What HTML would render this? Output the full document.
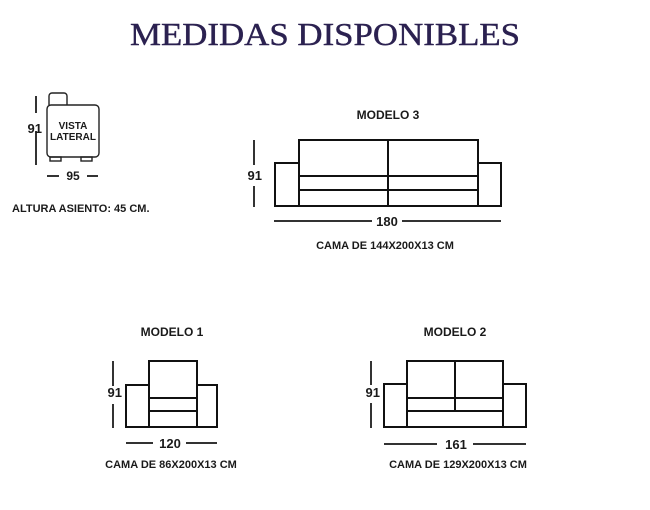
<!DOCTYPE html>
<html><head><meta charset="utf-8"><style>
html,body{margin:0;padding:0;background:#fff;}
svg{display:block;}
text{font-family:"Liberation Sans",sans-serif;font-weight:bold;fill:#1a1a1a;}
.t{font-family:"Liberation Serif",serif;font-weight:normal;fill:#2b2150;stroke:#2b2150;stroke-width:0.4;}
</style></head><body>
<svg width="650" height="510" viewBox="0 0 650 510" xmlns="http://www.w3.org/2000/svg">
<text class="t" x="130" y="45" font-size="32" textLength="390" lengthAdjust="spacingAndGlyphs">MEDIDAS DISPONIBLES</text>

<!-- side view -->
<g stroke="#222" stroke-width="1.4" fill="none">
<path d="M49,105 V96 a3,3 0 0 1 3,-3 H64 a3,3 0 0 1 3,3 V105"/>
<rect x="47" y="105" width="52" height="52" rx="4"/>
<rect x="50" y="157" width="11" height="4"/>
<rect x="81" y="157" width="11" height="4"/>
</g>
<g stroke="#333" stroke-width="2">
<line x1="36" y1="96" x2="36" y2="113"/><line x1="36" y1="131" x2="36" y2="165"/>
<line x1="47" y1="176" x2="59" y2="176"/><line x1="87" y1="176" x2="98" y2="176"/>
</g>
<text x="42" y="133" font-size="13" text-anchor="end">91</text>
<text x="73" y="129" font-size="10" text-anchor="middle">VISTA</text>
<text x="73" y="140" font-size="10" text-anchor="middle">LATERAL</text>
<text x="73" y="180" font-size="12" text-anchor="middle">95</text>
<text x="12" y="212" font-size="11">ALTURA ASIENTO: 45 CM.</text>

<!-- modelo 3 -->
<text x="388" y="119" font-size="12" text-anchor="middle">MODELO 3</text>
<g stroke="#111" stroke-width="2" fill="none">
<rect x="275" y="163" width="24" height="43"/>
<rect x="299" y="140" width="179" height="66"/>
<rect x="478" y="163" width="23" height="43"/>
<line x1="299" y1="176" x2="478" y2="176"/><line x1="299" y1="190" x2="478" y2="190"/>
<line x1="388" y1="140" x2="388" y2="206"/>
</g>
<g stroke="#333" stroke-width="2">
<line x1="254" y1="140" x2="254" y2="165"/><line x1="254" y1="186" x2="254" y2="207"/>
<line x1="274" y1="221" x2="372" y2="221"/><line x1="402" y1="221" x2="501" y2="221"/>
</g>
<text x="262" y="180" font-size="13" text-anchor="end">91</text>
<text x="387" y="226" font-size="13" text-anchor="middle">180</text>
<text x="385" y="249" font-size="11" text-anchor="middle">CAMA DE 144X200X13 CM</text>

<!-- modelo 1 -->
<text x="172" y="336" font-size="12" text-anchor="middle">MODELO 1</text>
<g stroke="#111" stroke-width="2" fill="none">
<rect x="126" y="385" width="23" height="42"/>
<rect x="149" y="361" width="48" height="66"/>
<rect x="197" y="385" width="20" height="42"/>
<line x1="149" y1="398" x2="197" y2="398"/><line x1="149" y1="411" x2="197" y2="411"/>
</g>
<g stroke="#333" stroke-width="2">
<line x1="113" y1="361" x2="113" y2="386"/><line x1="113" y1="404" x2="113" y2="428"/>
<line x1="126" y1="443" x2="153" y2="443"/><line x1="186" y1="443" x2="217" y2="443"/>
</g>
<text x="122" y="397" font-size="13" text-anchor="end">91</text>
<text x="170" y="448" font-size="13" text-anchor="middle">120</text>
<text x="171" y="468" font-size="11" text-anchor="middle">CAMA DE 86X200X13 CM</text>

<!-- modelo 2 -->
<text x="455" y="336" font-size="12" text-anchor="middle">MODELO 2</text>
<g stroke="#111" stroke-width="2" fill="none">
<rect x="384" y="384" width="23" height="43"/>
<rect x="407" y="361" width="96" height="66"/>
<rect x="503" y="384" width="23" height="43"/>
<line x1="407" y1="398" x2="503" y2="398"/><line x1="407" y1="411" x2="503" y2="411"/>
<line x1="455" y1="361" x2="455" y2="411"/>
</g>
<g stroke="#333" stroke-width="2">
<line x1="371" y1="361" x2="371" y2="385"/><line x1="371" y1="403" x2="371" y2="428"/>
<line x1="384" y1="444" x2="437" y2="444"/><line x1="473" y1="444" x2="526" y2="444"/>
</g>
<text x="380" y="397" font-size="13" text-anchor="end">91</text>
<text x="456" y="449" font-size="13" text-anchor="middle">161</text>
<text x="458" y="468" font-size="11" text-anchor="middle">CAMA DE 129X200X13 CM</text>
</svg>
</body></html>
